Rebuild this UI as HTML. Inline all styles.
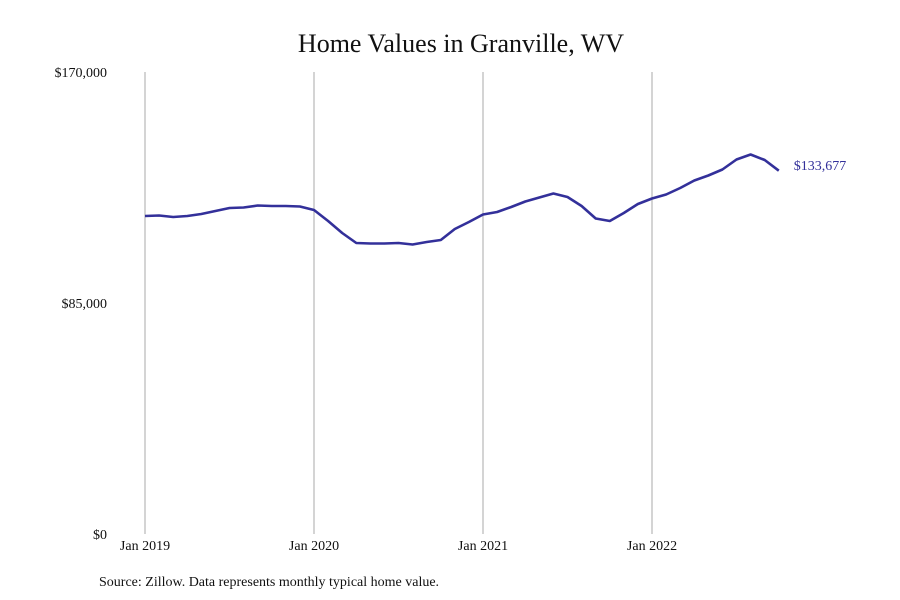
<!DOCTYPE html>
<html><head><meta charset="utf-8"><style>
body{margin:0;background:#fff;}
svg{display:block;font-family:"Liberation Serif",serif;}
</style></head><body>
<svg id="chart" width="900" height="600">
<text x="461" y="52" text-anchor="middle" font-size="26" fill="#111">Home Values in Granville, WV</text>
<text x="99" y="586" font-size="14" fill="#111">Source: Zillow. Data represents monthly typical home value.</text>
<g id="grid"></g><g id="axes"></g><g id="series"></g>
</svg>
<script>
const startYear = 2019;
const values = [117024,117208,116656,117024,117760,118864,119968,120152,120888,120704,120704,120520,
119232,115184,110768,107088,106904,106904,107088,106536,107456,108192,112240,114816,
117576,118496,120336,122360,123832,125304,124016,120704,116104,115184,118128,121440,
123464,124936,127328,130088,131928,134136,137816,139656,137632,133677];
const yTicks = [0,85000,170000];
const yTickLabels = ["$0","$85,000","$170,000"];
const xTickLabels = ["Jan 2019","Jan 2020","Jan 2021","Jan 2022"];
const lastLabel = "$133,677";

const NS="http://www.w3.org/2000/svg";
const x0=145, pxPerMonth=169/12, yBase=534, yTop=72, yMax=170000;
const xScale=i=>x0+i*pxPerMonth;
const yScale=v=>yBase-(v/yMax)*(yBase-yTop);
function mk(tag,attrs,parent){const e=document.createElementNS(NS,tag);for(const k in attrs)e.setAttribute(k,attrs[k]);parent.appendChild(e);return e;}
const grid=document.getElementById('grid'),axes=document.getElementById('axes'),series=document.getElementById('series');
xTickLabels.forEach((lab,k)=>{
  const x=xScale(k*12);
  const l=mk('line',{x1:x,x2:x,y1:yTop,y2:yBase,stroke:'#aaa','stroke-width':1},grid);
  
  
  const t=mk('text',{x:x,y:550,'text-anchor':'middle','font-size':14,fill:'#111'},axes);
  t.textContent=lab;
  
  
});
yTicks.forEach((v,k)=>{
  const t=mk('text',{x:107,y:yScale(v)+5,'text-anchor':'end','font-size':14,fill:'#111'},axes);
  t.textContent=yTickLabels[k];
  
  
});
const pts=values.map((v,i)=>xScale(i).toFixed(1)+','+yScale(v).toFixed(1)).join(' ');
const pl=mk('polyline',{points:pts,fill:'none',stroke:'#33309a','stroke-width':2.6,'stroke-linejoin':'round'},series);


const li=values.length-1;
const lt=mk('text',{x:xScale(li)+15,y:yScale(values[li])-0.5,'font-size':14,fill:'#33309a'},series);
lt.textContent=lastLabel;


</script>
</body></html>
